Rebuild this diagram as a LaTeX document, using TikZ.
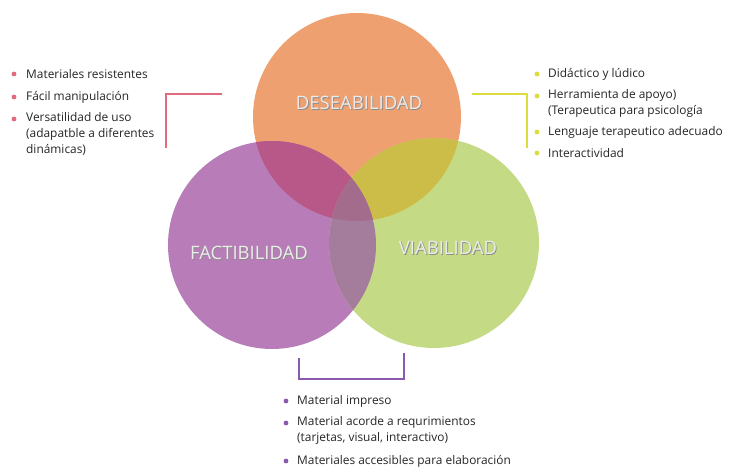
\documentclass[tikz,border=0pt]{standalone}
\usepackage{fontspec}
\setmainfont{Open Sans}
\usetikzlibrary{calc}
\definecolor{cOr}{HTML}{EFA070}
\definecolor{cPu}{HTML}{B87DB8}
\definecolor{cGr}{HTML}{C5DA85}
\definecolor{cOP}{HTML}{B85888}
\definecolor{cOG}{HTML}{CCBC48}
\definecolor{cPG}{HTML}{A47C9C}
\definecolor{cOPG}{HTML}{A46C8C}
\definecolor{bPink}{HTML}{E26A7C}
\definecolor{bYel}{HTML}{DCDC3C}
\definecolor{bPur}{HTML}{8A5AAE}
\definecolor{txt}{HTML}{262626}
\tikzset{
  item/.style={anchor=west, inner sep=0pt, align=left, font=\fontsize{11.9}{16}\selectfont, text=txt},
  dot/.style={circle, inner sep=0pt, minimum size=4.8pt},
  bigl/.style={inner sep=0pt, font=\fontsize{18.5}{18.5}\selectfont},
  brk/.style={line width=2pt, line cap=butt, line join=miter}
}
\newcommand{\circlabel}[3]{%
  \node[bigl, text=black!45] (#1s) at ($(#2)+(0.9,1.1)$) {#3};
  \node[bigl, text=white!92!black] (#1) at (#2) {#3};}
\begin{document}
\begin{tikzpicture}[x=1pt,y=-1pt]
\useasboundingbox (0,0) rectangle (731,469);
\fill[white] (0,0) rectangle (731,469);
% circle centres
\coordinate (O) at (357,117);
\coordinate (P) at (272,245);
\coordinate (G) at (434,243);
\def\rO{104pt}\def\rP{104pt}\def\rG{105pt}
\fill[cOr] (O) circle[radius=\rO];
\fill[cPu] (P) circle[radius=\rP];
\fill[cGr] (G) circle[radius=\rG];
\begin{scope}
  \clip (O) circle[radius=\rO];
  \fill[cOP] (P) circle[radius=\rP];
  \fill[cOG] (G) circle[radius=\rG];
\end{scope}
\begin{scope}
  \clip (P) circle[radius=\rP];
  \fill[cPG] (G) circle[radius=\rG];
  \clip (G) circle[radius=\rG];
  \fill[cOPG] (O) circle[radius=\rO];
\end{scope}
% labels
\circlabel{lD}{359,103}{DESEABILIDAD}
\circlabel{lF}{249,253}{FACTIBILIDAD}
\circlabel{lV}{448,248}{VIABILIDAD}
% brackets
\draw[brk, bPink] (222,94) -- (166,94) -- (166,148);
\draw[brk, bYel] (472,94) -- (527,94) -- (527,148);
\draw[brk, bPur] (299,358) -- (299,379) -- (404,379) -- (404,353);
% left list
\node[dot, fill=bPink] (b1) at (14,74) {};
\node[item] (t1) at (26,74) {Materiales resistentes};
\node[dot, fill=bPink] (b2) at (14,97) {};
\node[item] (t2) at (26,97) {Fácil manipulación};
\node[dot, fill=bPink] (b3) at (14,119) {};
\node[item, anchor=north west] (t3) at (26,112) {Versatilidad de uso\\(adapatble a diferentes\\dinámicas)};
% right list
\node[dot, fill=bYel] (r1) at (537,74) {};
\node[item] (s1) at (548,74) {Didáctico y lúdico};
\node[dot, fill=bYel] (r2) at (537,96) {};
\node[item, anchor=north west] (s2) at (548,89) {Herramienta de apoyo)\\(Terapeutica para psicología};
\node[dot, fill=bYel] (r3) at (537,132) {};
\node[item] (s3) at (548,132) {Lenguaje terapeutico adecuado};
\node[dot, fill=bYel] (r4) at (537,153) {};
\node[item] (s4) at (548,153) {Interactividad};
% bottom list
\node[dot, fill=bPur] (u1) at (286,401) {};
\node[item] (v1) at (297,401) {Material impreso};
\node[dot, fill=bPur] (u2) at (286,423) {};
\node[item, anchor=north west] (v2) at (297,416) {Material acorde a requrimientos\\(tarjetas, visual, interactivo)};
\node[dot, fill=bPur] (u3) at (286,461) {};
\node[item] (v3) at (297,461) {Materiales accesibles para elaboración};
\end{tikzpicture}
\end{document}
